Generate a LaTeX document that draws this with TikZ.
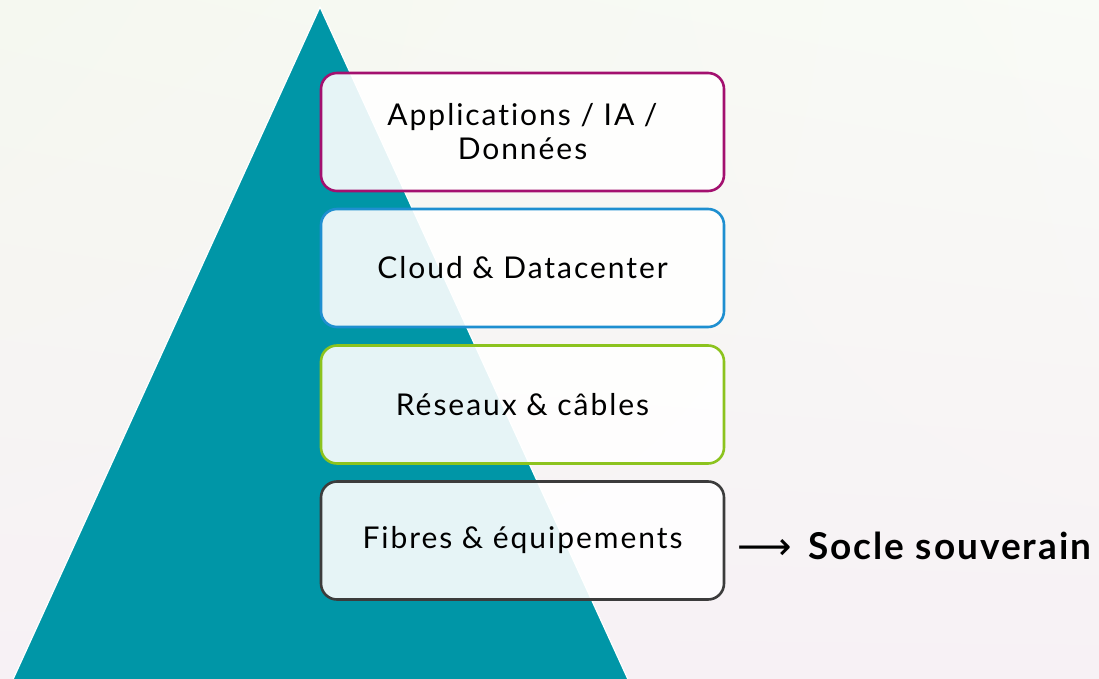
\documentclass[tikz,border=0pt]{standalone}
\usepackage{fontspec}
\setmainfont{Lato}[Ligatures=NoCommon]
\newfontfamily\arrowfont{DejaVu Sans}
\usetikzlibrary{shadings}
\definecolor{teal1}{HTML}{0096A7}
\definecolor{bgA}{HTML}{F5F8F0}
\definecolor{bgB}{HTML}{F7F1F5}
\definecolor{cMag}{HTML}{A3106F}
\definecolor{cBlue}{HTML}{1E8FD0}
\definecolor{cGreen}{HTML}{8CC31E}
\definecolor{cGray}{HTML}{3C3C3C}
\tikzset{
  layer/.style={draw, line width=2.6pt, rounded corners=16pt, fill=white, fill opacity=0.9, text opacity=1,
    minimum width=403pt, minimum height=118pt, inner sep=0pt, align=center,
    font=\fontsize{30}{34}\selectfont\addfontfeatures{LetterSpace=6.5}, text=black},
}
\begin{document}
\begin{tikzpicture}[x=1pt,y=-1pt]
\useasboundingbox (0,0) rectangle (1099,679);
\shade[upper left=bgA, upper right=bgA!60!white, lower left=bgB, lower right=bgB] (0,0) rectangle (1099,679);
\fill[teal1, draw=white, line width=1.2pt] (320,7) -- (10,686) -- (631,686) -- cycle;
\node[layer, draw=cMag] (l1) at (522.5,132) {Applications / IA /\\Données};
\node[layer, draw=cBlue] (l2) at (522.5,268) {Cloud \& Datacenter};
\node[layer, draw=cGreen] (l3) at (522.5,404.5) {Réseaux \& câbles};
\node[layer, draw=cGray] (l4) at (522.5,540.5) {Fibres \& équipements};
\node[anchor=west, inner sep=0pt, font=\fontsize{37}{40}\selectfont\bfseries\addfontfeatures{LetterSpace=5.5}] (socle) at (808,546) {Socle souverain};
\node[anchor=east, inner sep=0pt, font=\arrowfont\fontsize{38}{40}\selectfont] (arr) at (792,549) {⟶};
\end{tikzpicture}
\end{document}
